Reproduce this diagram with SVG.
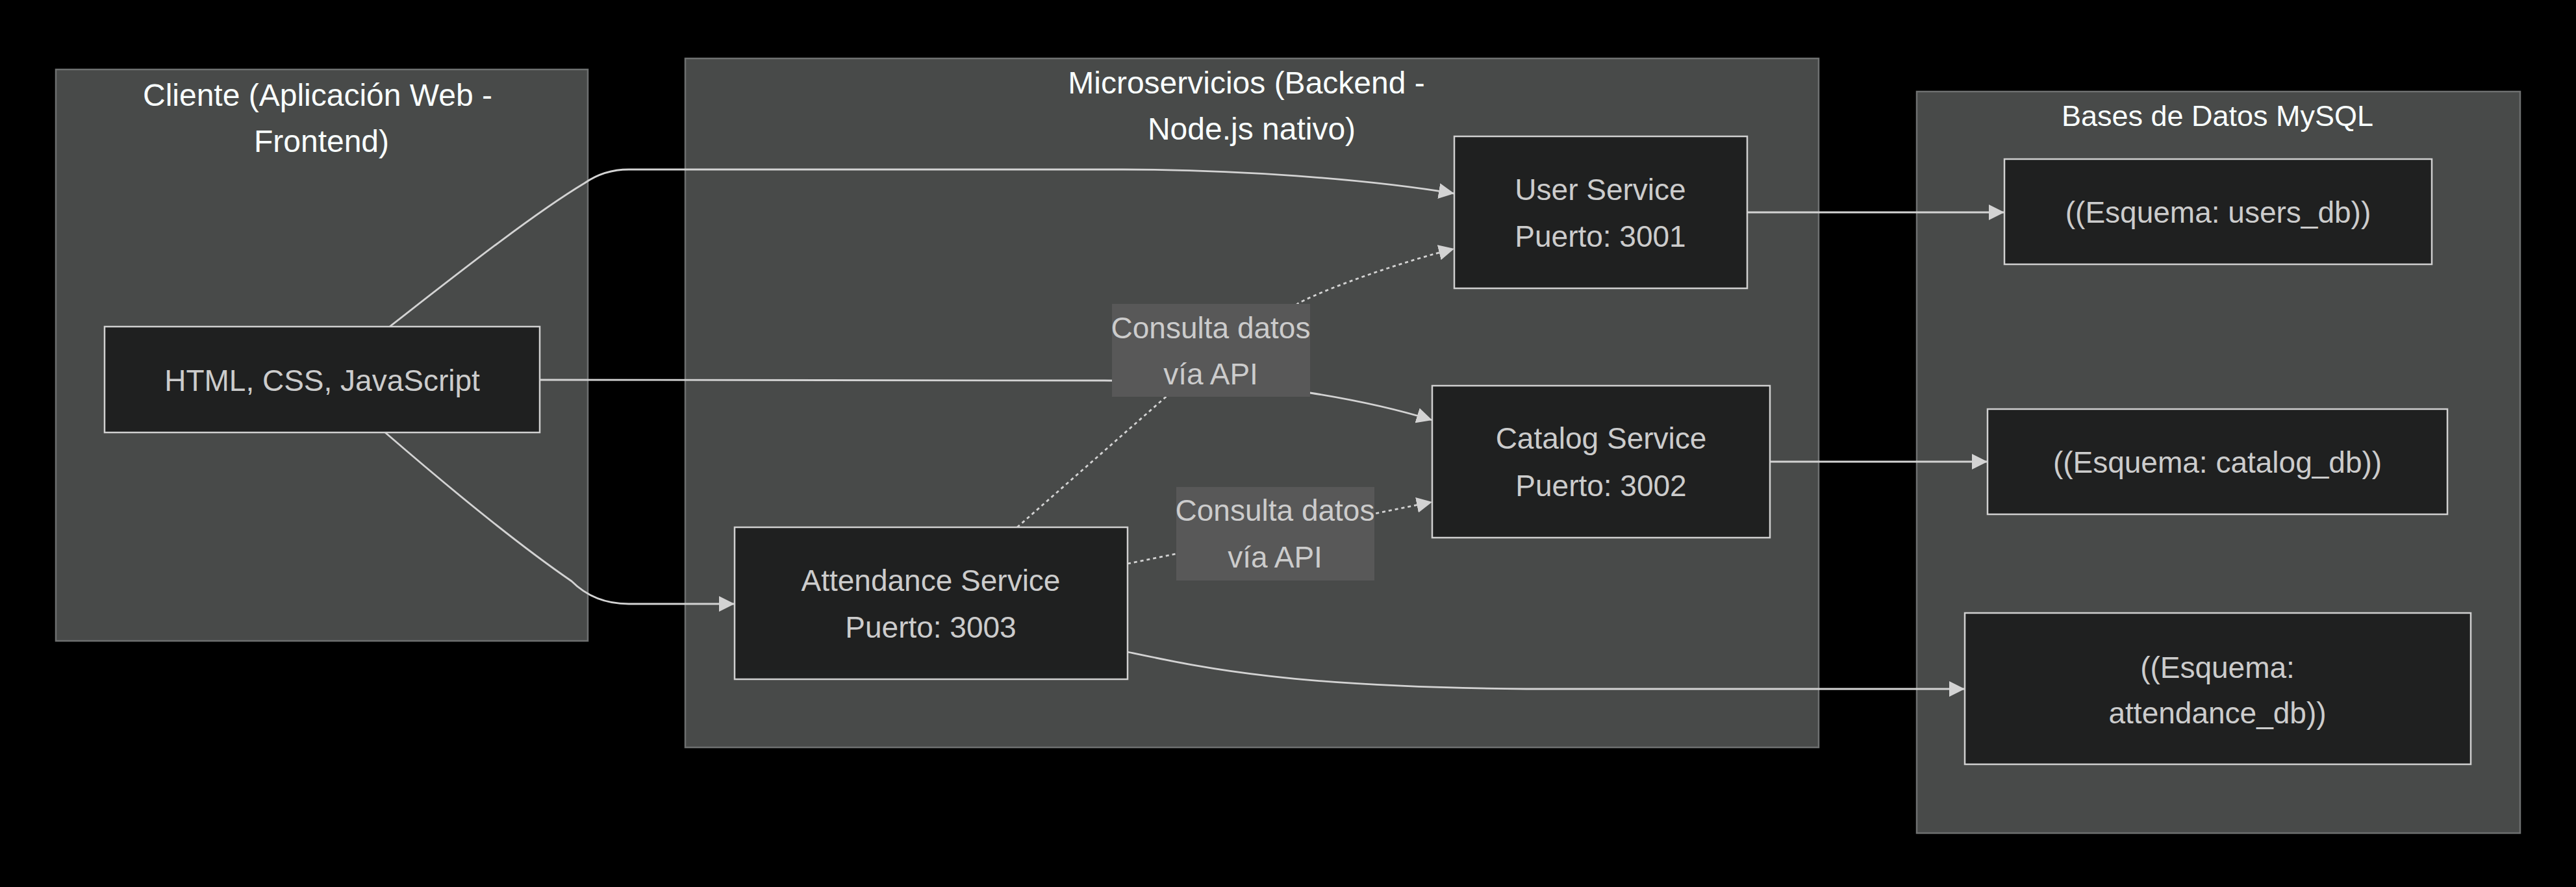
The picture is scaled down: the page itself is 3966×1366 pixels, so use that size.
<svg xmlns="http://www.w3.org/2000/svg" width="3966" height="1366" viewBox="0 0 3966 1366">
<style>
.cluster{fill:#484a49;stroke:#6e7070;stroke-width:2.5}
.ctitle{fill:#f9fffe;font-family:"Liberation Sans",Arial,sans-serif;font-size:48px;text-anchor:middle}
.node{fill:#1f2020;stroke:#d0d0d0;stroke-width:2.5}
.ntext{fill:#cccccc;font-family:"Liberation Sans",Arial,sans-serif;font-size:46px;text-anchor:middle}
.edge{fill:none;stroke:#d3d3d3;stroke-width:2.8}
.dotted{stroke-dasharray:5 5}
.lbl{fill:#585858}
</style>
<defs>
<marker id="arrow" viewBox="0 0 10 10" refX="10" refY="5" markerUnits="userSpaceOnUse" markerWidth="24" markerHeight="24" orient="auto">
<path d="M0,0 L10,5 L0,10 z" fill="#d3d3d3" stroke="none"/>
</marker>
</defs>
<rect x="0" y="0" width="3966" height="1366" fill="#000000"/>

<g id="cluster-cliente">
<rect class="cluster" x="86" y="107" width="819" height="880"/>
<text class="ctitle" x="489" y="163">Cliente (Aplicación Web -</text>
<text class="ctitle" x="495" y="234">Frontend)</text>
</g>
<g id="cluster-microservicios">
<rect class="cluster" x="1055" y="90" width="1745" height="1061"/>
<text class="ctitle" x="1919" y="144">Microservicios (Backend -</text>
<text class="ctitle" x="1927" y="215">Node.js nativo)</text>
</g>
<g id="cluster-bases">
<rect class="cluster" x="2951" y="141" width="929" height="1142"/>
<text class="ctitle" x="3414" y="194" style="font-size:45px">Bases de Datos MySQL</text>
</g>

<g id="connectors">
<path class="edge" d="M600,503 C700,425 820,330 900,282 Q930,261 968,261 L1729,261 C1900,261 2100,275 2239,298" marker-end="url(#arrow)"/>
<path class="edge" d="M831,585 L1700,586 C1850,588 1950,595 2017,605 C2080,615 2150,630 2205,647" marker-end="url(#arrow)"/>
<path class="edge" d="M593,666 C690,750 800,840 880,895 Q915,930 968,930 L1131,930" marker-end="url(#arrow)"/>
<path class="edge" d="M2690,327 L3086,327" marker-end="url(#arrow)"/>
<path class="edge" d="M2725,711 L3060,711" marker-end="url(#arrow)"/>
<path class="edge" d="M1736,1004 C1850,1028 1980,1058 2350,1061 L3025,1061" marker-end="url(#arrow)"/>
<path class="edge dotted" d="M1566,812 L1794,612 L1999,467 C2050,440 2170,400 2239,383" marker-end="url(#arrow)"/>
<path class="edge dotted" d="M1736,868 L2205,773" marker-end="url(#arrow)"/>
<g id="label-1">
<rect class="lbl" x="1712" y="468" width="305" height="143"/>
<text class="ntext" x="1864" y="521">Consulta datos</text>
<text class="ntext" x="1864" y="592">vía API</text>
</g>
<g id="label-2">
<rect class="lbl" x="1811" y="750" width="305" height="144"/>
<text class="ntext" x="1963" y="802">Consulta datos</text>
<text class="ntext" x="1963" y="874">vía API</text>
</g>
</g>

<g id="node-html">
<rect class="node" x="161" y="503" width="670" height="163"/>
<text class="ntext" x="496" y="602">HTML, CSS, JavaScript</text>
</g>
<g id="node-user">
<rect class="node" x="2239" y="210" width="451" height="234"/>
<text class="ntext" x="2464" y="308">User Service</text>
<text class="ntext" x="2464" y="380">Puerto: 3001</text>
</g>
<g id="node-catalog">
<rect class="node" x="2205" y="594" width="520" height="234"/>
<text class="ntext" x="2465" y="691">Catalog Service</text>
<text class="ntext" x="2465" y="764">Puerto: 3002</text>
</g>
<g id="node-attendance">
<rect class="node" x="1131" y="812" width="605" height="234"/>
<text class="ntext" x="1433" y="910">Attendance Service</text>
<text class="ntext" x="1433" y="982">Puerto: 3003</text>
</g>
<g id="node-usersdb">
<rect class="node" x="3086" y="245" width="658" height="162"/>
<text class="ntext" x="3415" y="343">((Esquema: users_db))</text>
</g>
<g id="node-catalogdb">
<rect class="node" x="3060" y="630" width="708" height="162"/>
<text class="ntext" x="3414" y="728">((Esquema: catalog_db))</text>
</g>
<g id="node-attendancedb">
<rect class="node" x="3025" y="944" width="779" height="233"/>
<text class="ntext" x="3414" y="1044">((Esquema:</text>
<text class="ntext" x="3414" y="1114">attendance_db))</text>
</g>
</svg>
